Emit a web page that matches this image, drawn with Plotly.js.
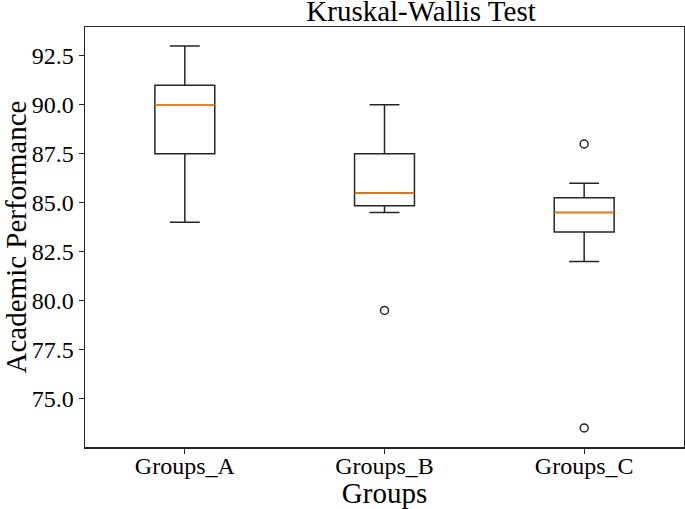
<!DOCTYPE html>
<html>
<head>
<meta charset="utf-8">
<script src="https://cdn.plot.ly/plotly-3.0.1.min.js"></script>
<style>html,body{margin:0;padding:0;background:#fff;}#chart{width:685px;height:509px;}</style>
</head>
<body>
<div id="chart"></div>
<script>
// Data
const groups = ["Groups_A", "Groups_B", "Groups_C"];
const lowerWhisker = [84.0, 84.5, 82.0];
const q1Values = [87.5, 84.85, 83.5];
const medianValues = [90.0, 85.5, 84.5];
const q3Values = [91.0, 87.5, 85.25];
const upperWhisker = [93.0, 90.0, 86.0];
const outlierGroups = ["Groups_B", "Groups_C", "Groups_C"];
const outlierValues = [79.5, 88.0, 73.5];
const yTickValues = [75.0, 77.5, 80.0, 82.5, 85.0, 87.5, 90.0, 92.5];

const ink = "#262626";
const font = "Liberation Serif, Times New Roman, serif";

const traces = [
  {
    type: "box",
    x: groups,
    q1: q1Values,
    median: medianValues,
    q3: q3Values,
    lowerfence: lowerWhisker,
    upperfence: upperWhisker,
    boxpoints: false,
    width: 0.3,
    whiskerwidth: 0.5,
    fillcolor: "rgba(0,0,0,0)",
    line: {color: ink, width: 1.5},
    showlegend: false,
    hoverinfo: "skip"
  },
  {
    type: "box",
    x: groups,
    q1: medianValues,
    median: medianValues,
    q3: medianValues,
    lowerfence: medianValues,
    upperfence: medianValues,
    boxpoints: false,
    width: 0.3,
    whiskerwidth: 0,
    fillcolor: "rgba(0,0,0,0)",
    line: {color: "#ff7f0e", width: 1.5},
    showlegend: false,
    hoverinfo: "skip"
  },
  {
    type: "scatter",
    mode: "markers",
    x: outlierGroups,
    y: outlierValues,
    marker: {symbol: "circle-open", size: 8, color: ink, line: {width: 1.5, color: ink}},
    showlegend: false,
    hoverinfo: "skip"
  }
];

const layout = {
  width: 685,
  height: 509,
  margin: {l: 85, r: 1, t: 27, b: 62},
  paper_bgcolor: "#ffffff",
  plot_bgcolor: "#ffffff",
  font: {family: font, color: "#000000", size: 24},
  showlegend: false,
  boxmode: "overlay",
  title: {
    text: "Kruskal-Wallis Test",
    font: {family: font, size: 29, color: "#000000"},
    x: 0.561, xref: "paper", xanchor: "center",
    y: 0.979, yref: "container", yanchor: "middle"
  },
  xaxis: {
    type: "category",
    categoryorder: "array",
    categoryarray: groups,
    range: [-0.5, 2.5],
    showgrid: false,
    zeroline: false,
    showline: true,
    mirror: true,
    linecolor: ink,
    linewidth: 1.5,
    ticks: "outside",
    ticklen: 5,
    tickwidth: 1.2,
    tickcolor: ink,
    ticklabelstandoff: -8,
    tickfont: {family: font, size: 24, color: "#000000"},
    title: {text: "Groups", font: {family: font, size: 29, color: "#000000"}, standoff: 12}
  },
  yaxis: {
    range: [72.525, 93.975],
    tickvals: yTickValues,
    ticktext: yTickValues.map(v => v.toFixed(1)),
    showgrid: false,
    zeroline: false,
    showline: true,
    mirror: true,
    linecolor: ink,
    linewidth: 1.5,
    ticks: "outside",
    ticklen: 5,
    tickwidth: 1.2,
    tickcolor: ink,
    tickfont: {family: font, size: 24, color: "#000000"},
    title: {text: "Academic Performance", font: {family: font, size: 29, color: "#000000"}, standoff: 16}
  }
};

Plotly.newPlot("chart", traces, layout, {displayModeBar: false, staticPlot: true});
</script>
</body>
</html>
